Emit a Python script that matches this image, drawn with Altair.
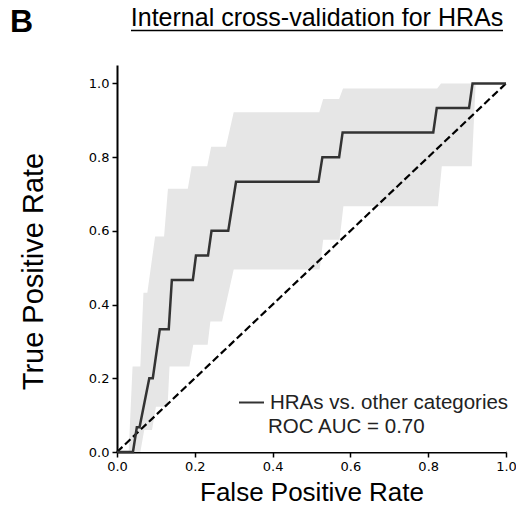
import altair as alt
import pandas as pd

# Mean ROC curve (step-like)
curve_fpr = [0.0, 0.041, 0.051, 0.058, 0.083, 0.092, 0.110, 0.133, 0.141, 0.195, 0.203, 0.234,
             0.243, 0.286, 0.306, 0.518, 0.528, 0.571, 0.580, 0.813, 0.822, 0.905, 0.914, 1.0]
curve_tpr = [0.0, 0.0, 0.067, 0.067, 0.2, 0.2, 0.333, 0.333, 0.467, 0.467, 0.533, 0.533,
             0.6, 0.6, 0.733, 0.733, 0.8, 0.8, 0.867, 0.867, 0.933, 0.933, 1.0, 1.0]

# Upper edge of the +/- 1 std band
upper_fpr = [0.0, 0.030, 0.040, 0.060, 0.068, 0.078, 0.098, 0.121, 0.131, 0.182, 0.192, 0.232,
             0.242, 0.280, 0.300, 0.520, 0.530, 0.571, 0.581, 0.823, 0.833, 1.0]
upper_tpr = [0.0, 0.0, 0.232, 0.232, 0.432, 0.432, 0.585, 0.585, 0.714, 0.714, 0.775, 0.775,
             0.828, 0.828, 0.922, 0.922, 0.958, 0.958, 0.986, 0.986, 1.0, 1.0]

# Lower edge of the band
lower_fpr = [0.0, 0.060, 0.070, 0.090, 0.100, 0.130, 0.135, 0.186, 0.196, 0.233, 0.240, 0.270,
             0.300, 0.521, 0.530, 0.572, 0.582, 0.825, 0.835, 0.912, 0.922, 1.0]
lower_tpr = [0.0, 0.0, 0.06, 0.06, 0.123, 0.123, 0.232, 0.232, 0.291, 0.291, 0.354, 0.354,
             0.495, 0.495, 0.576, 0.576, 0.667, 0.667, 0.775, 0.775, 1.0, 1.0]

chance_fpr = [0.0, 1.0]
chance_tpr = [0.0, 1.0]

series_name = "HRAs vs. other categories"
auc_text = "ROC AUC = 0.70"
title_text = "Internal cross-validation for HRAs"
panel_label = "B"

x_ticks = [0.0, 0.2, 0.4, 0.6, 0.8, 1.0]
y_ticks = [0.0, 0.2, 0.4, 0.6, 0.8, 1.0]

curve_df = pd.DataFrame({"fpr": curve_fpr, "tpr": curve_tpr, "series": series_name})
upper_df = pd.DataFrame({"fpr": upper_fpr, "tpr": upper_tpr})
lower_df = pd.DataFrame({"fpr": lower_fpr, "tpr": lower_tpr})
chance_df = pd.DataFrame({"fpr": chance_fpr, "tpr": chance_tpr})
one_df = pd.DataFrame({"a": [0]})

xscale = alt.Scale(domain=[0, 1.0], nice=False, zero=False)
yscale = alt.Scale(domain=[0, 1.05], nice=False, zero=False)

x_enc = alt.X("fpr:Q", scale=xscale,
              axis=alt.Axis(title="False Positive Rate", values=x_ticks, format=".1f",
                            titlePadding=6, labelFlush=False))
y_enc = alt.Y("tpr:Q", scale=yscale,
              axis=alt.Axis(title="True Positive Rate", values=y_ticks, format=".1f",
                            titlePadding=40, labelFlush=False, titleFontSize=29,
                            titleY=206))

band_upper = alt.Chart(upper_df).mark_area(color="#e6e6e6", opacity=1).encode(
    x=x_enc, y=y_enc)
band_lower = alt.Chart(lower_df).mark_area(color="white", opacity=1).encode(
    x="fpr:Q", y="tpr:Q")

chance = alt.Chart(chance_df).mark_line(color="black", strokeWidth=2.2,
                                        strokeDash=[7.5, 3.5]).encode(
    x="fpr:Q", y="tpr:Q")

curve = alt.Chart(curve_df).mark_line(strokeWidth=2.5, strokeJoin="miter").encode(
    x="fpr:Q", y="tpr:Q",
    color=alt.Color("series:N",
                    scale=alt.Scale(domain=[series_name], range=["#333333"]),
                    legend=alt.Legend(title=None, orient="none", legendX=121, legendY=324,
                                      symbolType="stroke", symbolSize=625,
                                      symbolStrokeWidth=2, labelFont="Liberation Sans",
                                      labelFontSize=20.5, labelColor="#222222",
                                      labelOffset=5, labelLimit=400, padding=0)))

auc = alt.Chart(one_df).mark_text(align="left", baseline="middle", font="Liberation Sans",
                                  fontSize=20.5, color="#222222").encode(
    x=alt.value(151), y=alt.value(362), text=alt.value(auc_text))

label_b = alt.Chart(one_df).mark_text(align="left", baseline="alphabetic",
                                      font="Liberation Sans", fontSize=32,
                                      fontWeight="bold", color="black").encode(
    x=alt.value(-107), y=alt.value(-33), text=alt.value(panel_label))

title = alt.Chart(one_df).mark_text(align="center", baseline="alphabetic",
                                    font="Liberation Sans", fontSize=25,
                                    color="black").encode(
    x=alt.value(200), y=alt.value(-39), text=alt.value(title_text))

underline = alt.Chart(one_df).mark_rule(color="black", strokeWidth=1.5).encode(
    x=alt.value(14), x2=alt.value(386), y=alt.value(-34.5))

chart = alt.layer(band_upper, band_lower, chance, curve, auc, label_b, title,
                  underline).properties(
    width=389, height=387,
    autosize=alt.AutoSizeParams(type="none"),
    padding={"left": 109, "top": 57, "right": 10, "bottom": 51},
).configure_view(stroke=None).configure_axis(
    domainColor="black", domainWidth=2, tickColor="black", tickWidth=1.5, tickSize=5,
    labelFont="DejaVu Sans", labelFontSize=13, labelColor="black", labelPadding=3,
    titleFont="Liberation Sans", titleFontSize=26, titleFontWeight="normal",
    titleColor="black", grid=False, zindex=1,
)

chart.save("out.html", embed_options={"renderer": "svg", "actions": False})
